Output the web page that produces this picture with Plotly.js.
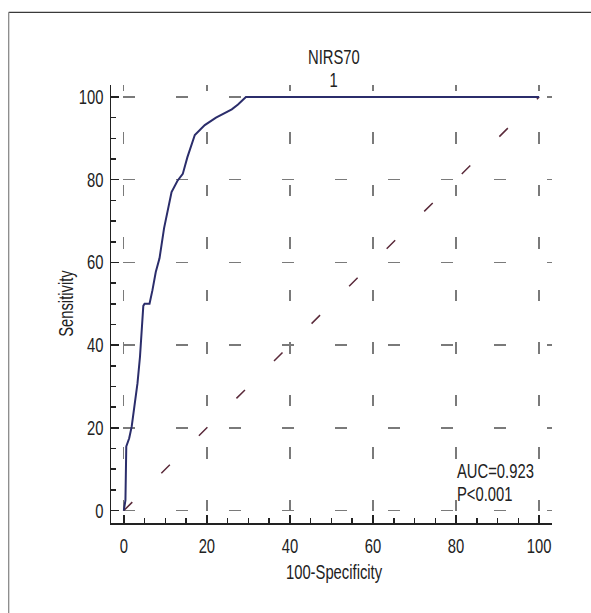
<!DOCTYPE html>
<html>
<head>
<meta charset="utf-8">
<script src="https://cdn.plot.ly/plotly-3.0.1.min.js"></script>
<style>
html,body{margin:0;padding:0;background:#fff;}
#chart{width:591px;height:613px;}
</style>
</head>
<body>
<div id="chart"></div>
<script>
// ROC curve of NIRS70
const fpr = [0, 0.4, 0.6, 1.3, 1.9, 2.2, 2.7, 3.3, 3.9, 4.3, 4.7, 5.0, 6.2, 6.9, 7.7, 8.6, 9.7, 11.5, 12.9, 14.2, 15.3, 17.1, 19.5, 22.2, 26.0, 27.5, 29.4, 100];
const tpr = [0, 2.5, 15.5, 17.5, 20.3, 22.7, 26.7, 30.8, 37.2, 43.6, 49.5, 50, 50, 53.3, 57.7, 61, 68.3, 77, 79.7, 81.4, 85.4, 90.8, 93.2, 95, 97, 98.2, 100, 100];
// reference diagonal
const diagX = [0, 100];
const diagY = [0, 100];
const tickVals = [0, 20, 40, 60, 80, 100];
const titleText = 'NIRS70';
const subTitleText = '1';
const xTitle = '100-Specificity';
const yTitle = 'Sensitivity';
const aucText = 'AUC=0.923';
const pText = 'P<0.001';

const FONT = '"Liberation Sans", Arial, sans-serif';
const TXT = '#222';
const NARROW = 0.74; // horizontal squeeze to mimic the condensed face

const axisBase = {
  showline: true, linecolor: '#222', linewidth: 1.5,
  zeroline: false, mirror: false,
  ticks: 'inside', ticklen: 8, tickwidth: 1.5, tickcolor: '#222',
  tickmode: 'array', tickvals: tickVals,
  tickfont: {family: FONT, size: 20, color: TXT},
  showgrid: true, gridcolor: '#7a7a7a', gridwidth: 1.3,
  minor: {ticks: 'inside', ticklen: 5, tickwidth: 1.5, tickcolor: '#222', dtick: 5, tick0: 0, showgrid: false},
  fixedrange: true
};

const textFont = {family: FONT, size: 20, color: TXT};

const layout = {
  width: 591, height: 613,
  margin: {l: 110.5, r: 39, t: 84.5, b: 89.5},
  paper_bgcolor: '#fff', plot_bgcolor: '#fff',
  showlegend: false,
  font: textFont,
  title: {text: titleText, x: 0.5055, xref: 'paper', xanchor: 'center',
          y: 1 - 57/613, yref: 'container', yanchor: 'middle',
          font: textFont},
  xaxis: Object.assign({}, axisBase, {
    range: [-3.08, 103.1],
    griddash: '6px,41px,5.5px,0px',
    ticklabelstandoff: 5
  }),
  yaxis: Object.assign({}, axisBase, {
    range: [-3.0, 102.9],
    griddash: '0px,11.5px,12.5px,29px',
    ticklabelstandoff: 2
  }),
  annotations: [
    {text: subTitleText, xref: 'paper', yref: 'paper', x: 0.5055, y: 1.0125,
     xanchor: 'center', yanchor: 'middle', showarrow: false, font: textFont},
    {text: xTitle, xref: 'paper', yref: 'paper', x: 0.5055, y: -0.1128,
     xanchor: 'center', yanchor: 'middle', showarrow: false, font: textFont},
    {text: yTitle, xref: 'paper', yref: 'paper', x: -0.103, y: 0.5, textangle: -90,
     xanchor: 'center', yanchor: 'middle', showarrow: false, font: textFont},
    {text: aucText, xref: 'x', yref: 'y', x: 80.0, y: 9.6,
     xanchor: 'left', yanchor: 'middle', align: 'left', showarrow: false, font: textFont,
     borderpad: 0},
    {text: pText, xref: 'x', yref: 'y', x: 80.0, y: 3.9,
     xanchor: 'left', yanchor: 'middle', align: 'left', showarrow: false, font: textFont,
     borderpad: 0}
  ],
  shapes: [
    {type: 'line', xref: 'paper', yref: 'paper', x0: -0.232, x1: 1.2, y0: 1.166, y1: 1.166,
     line: {color: '#3a3a3a', width: 1.3}},
    {type: 'line', xref: 'paper', yref: 'paper', x0: -0.232, x1: -0.232, y0: 1.166, y1: -0.3,
     line: {color: '#8a8a8a', width: 1.3}}
  ]
};

const traces = [
  {x: diagX, y: diagY, type: 'scatter', mode: 'lines',
   line: {color: '#5a2a3a', width: 1.5, dash: '12px,41px'}, hoverinfo: 'skip'},
  {x: fpr, y: tpr, type: 'scatter', mode: 'lines',
   line: {color: '#2b2d6b', width: 2}, hoverinfo: 'skip'}
];

Plotly.newPlot('chart', traces, layout, {displayModeBar: false, staticPlot: true}).then(function (gd) {
  gd.querySelectorAll('svg text').forEach(function (t) {
    const x = parseFloat(t.getAttribute('x')) || 0;
    const y = parseFloat(t.getAttribute('y')) || 0;
    const tr = t.getAttribute('transform') || '';
    t.setAttribute('transform', tr + ' translate(' + x + ',' + y + ') scale(' + NARROW + ',1) translate(' + (-x) + ',' + (-y) + ')');
  });
});
</script>
</body>
</html>
